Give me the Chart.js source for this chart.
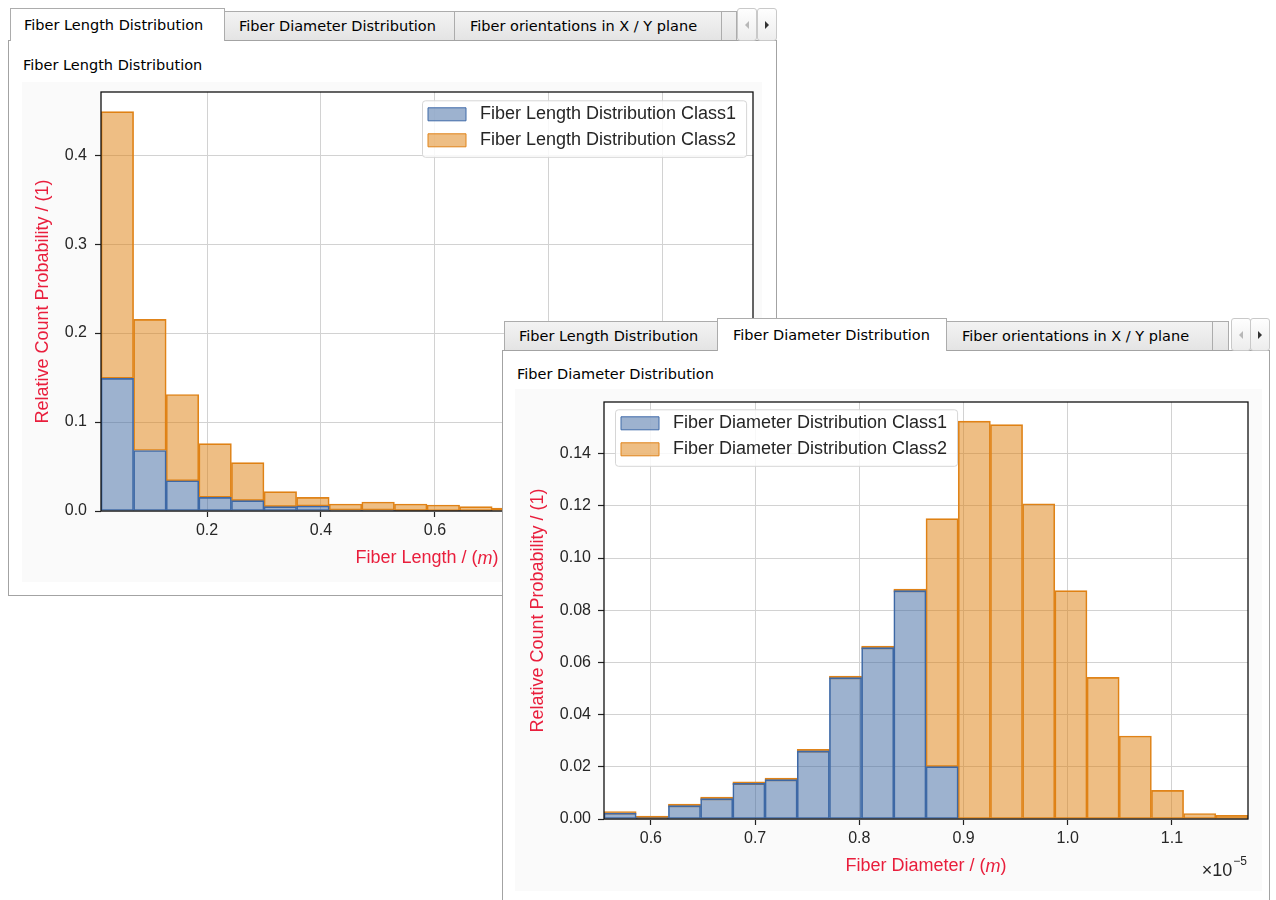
<!DOCTYPE html>
<html>
<head>
<meta charset="utf-8">
<script src="https://cdn.jsdelivr.net/npm/chart.js"></script>
<style>
body { margin:0; width:1276px; height:900px; background:#fff; position:relative; overflow:hidden; font-family:"DejaVu Sans", sans-serif; font-size:14.5px; color:#000; }
.panel { position:absolute; box-sizing:border-box; border:1px solid #a3a3a3; background:#fff; }
.tab { position:absolute; box-sizing:border-box; height:29px; border:1px solid #acacac; border-bottom:0; background:linear-gradient(#f3f3f3,#e4e4e4); line-height:29px; padding-left:14px; white-space:nowrap; overflow:hidden; }
.tab.on { height:33px; background:#fff; line-height:32px; }
.arr { position:absolute; box-sizing:border-box; width:20px; height:33px; border:1px solid #c9c9c9; border-radius:3px; background:linear-gradient(#fefefe,#ededed); }
.arr::after { content:''; position:absolute; top:12px; left:7px; border-style:solid; }
.arr.l::after { border-width:4px 4px 4px 0; border-color:transparent #b8b8b8 transparent transparent; }
.arr.r::after { border-width:4px 0 4px 4px; border-color:transparent transparent transparent #333; }
.cap { position:absolute; line-height:20px; white-space:nowrap; }
.plot { position:absolute; background:#fafafa; }
.plot canvas { display:block; }
#w1 { position:absolute; left:0; top:0; z-index:1; }
#w2 { position:absolute; left:0; top:0; z-index:5; }
</style>
</head>
<body>
<div id="w1">
  <div class="panel" style="left:8px; top:40px; width:769px; height:556px;"></div>
  <div class="tab" style="left:224px; top:11px; width:231px;">Fiber Diameter Distribution</div>
  <div class="tab" style="left:454px; top:11px; width:268px; padding-left:15px;">Fiber orientations in X / Y plane</div>
  <div class="tab" style="left:721px; top:11px; width:16px;"></div>
  <div class="tab on" style="left:10px; top:8px; width:215px; padding-left:13px;">Fiber Length Distribution</div>
  <div class="arr l" style="left:737px; top:8px;"></div>
  <div class="arr r" style="left:757px; top:8px;"></div>
  <div class="cap" style="left:23px; top:55px;">Fiber Length Distribution</div>
  <div class="plot" style="left:22px; top:82px; width:740px; height:500px;"><canvas id="lengthChart" width="740" height="500"></canvas></div>
</div>
<div id="w2">
  <div class="panel" style="left:502px; top:350px; width:768px; height:570px;"></div>
  <div class="tab" style="left:504px; top:321px; width:214px;">Fiber Length Distribution</div>
  <div class="tab" style="left:946px; top:321px; width:267px; padding-left:15px;">Fiber orientations in X / Y plane</div>
  <div class="tab" style="left:1212px; top:321px; width:17px;"></div>
  <div class="tab on" style="left:717px; top:318px; width:230px; padding-left:15px;">Fiber Diameter Distribution</div>
  <div class="arr l" style="left:1231px; top:318px;"></div>
  <div class="arr r" style="left:1250px; top:318px;"></div>
  <div class="cap" style="left:517px; top:364px;">Fiber Diameter Distribution</div>
  <div class="plot" style="left:515px; top:389px; width:747px; height:502px;"><canvas id="diameterChart" width="747" height="502"></canvas></div>
</div>

<script>
// ---- data ----

// fiber length histogram, bin edges in m (20 bins)
var lengthEdges = [0.014, 0.071, 0.128, 0.186, 0.243, 0.300, 0.357, 0.414, 0.472, 0.529, 0.586,
                   0.643, 0.700, 0.758, 0.815, 0.872, 0.929, 0.986, 1.044, 1.101, 1.158];
var lengthClass1 = [0.149, 0.068, 0.034, 0.0154, 0.0116, 0.0049, 0.0056, 0.001, 0.001, 0.0005,
                    0.0003, 0.0002, 0, 0, 0, 0, 0, 0, 0, 0];
var lengthClass2 = [0.300, 0.1474, 0.097, 0.0603, 0.0427, 0.0168, 0.0098, 0.0069, 0.0091, 0.0074,
                    0.0064, 0.0047, 0.002, 0.0015, 0.0012, 0.001, 0.0008, 0.0006, 0.0004, 0.0003];
var lengthXTicks = [0.2, 0.4, 0.6, 0.8, 1.0];
var lengthYTicks = [0.0, 0.1, 0.2, 0.3, 0.4];

// fiber diameter histogram, bin edges in 1e-5 m (20 bins)
var diameterEdges = [0.555, 0.586, 0.617, 0.648, 0.679, 0.710, 0.740, 0.771, 0.802, 0.833, 0.864,
                     0.895, 0.926, 0.957, 0.988, 1.019, 1.050, 1.080, 1.111, 1.142, 1.173];
var diameterClass1 = [0.0023, 0.0005, 0.0051, 0.0078, 0.0137, 0.0151, 0.0261, 0.0542, 0.0657, 0.0875,
                      0.0201, 0, 0, 0, 0, 0, 0, 0, 0, 0];
var diameterClass2 = [0, 0, 0, 0, 0, 0, 0, 0, 0, 0,
                      0.095, 0.1525, 0.1511, 0.1208, 0.0875, 0.0543, 0.0318, 0.011, 0.0021, 0.0014];
var diameterXTicks = [0.6, 0.7, 0.8, 0.9, 1.0, 1.1];
var diameterYTicks = [0.00, 0.02, 0.04, 0.06, 0.08, 0.10, 0.12, 0.14];

// ---- styles ----
var FONT = '"Liberation Sans", Arial, sans-serif';
var RED = '#e91e3c';
var TXT = '#262626';
var blueFill = 'rgba(59,101,159,0.5)', blueEdge = '#3f6aa8';
var orangeFill = 'rgba(221,126,10,0.5)', orangeEdge = '#e0841a';

function maxLabelWidth(chart, lg) {
  var ctx = chart.ctx, w = 0;
  ctx.save();
  ctx.font = '18px ' + FONT;
  lg.legendItems.forEach(function(it) { w = Math.max(w, ctx.measureText(it.text).width); });
  ctx.restore();
  return w;
}

function legendFrame(chart, lg) {
  var ctx = chart.ctx;
  var x0 = lg.left + 2.5, y0 = lg.top + 3.5;
  var x1 = lg.right + 10.5, y1 = lg.top + 8 + 26 * lg.legendItems.length;
  var r = 3;
  ctx.save();
  ctx.beginPath();
  ctx.moveTo(x0 + r, y0);
  ctx.arcTo(x1, y0, x1, y1, r);
  ctx.arcTo(x1, y1, x0, y1, r);
  ctx.arcTo(x0, y1, x0, y0, r);
  ctx.arcTo(x0, y0, x1, y0, r);
  ctx.closePath();
  ctx.fillStyle = 'rgba(255,255,255,0.85)';
  ctx.fill();
  ctx.strokeStyle = '#d6d6d6';
  ctx.lineWidth = 1;
  ctx.stroke();
  ctx.restore();
}

var mplDecor = {
  id: 'mplDecor',
  beforeDraw: function(chart) {
    var a = chart.chartArea, ctx = chart.ctx;
    ctx.save();
    ctx.fillStyle = '#fff';
    ctx.fillRect(a.left, a.top, a.right - a.left, a.bottom - a.top);
    ctx.restore();
  },
  afterLayout: function(chart, args, opts) {
    var lg = chart.legend;
    if (!lg.legendItems) lg.buildLabels();
    lg.left = opts.legendAt[0];
    lg.top = opts.legendAt[1];
    // labels are right-aligned to this edge: patch 38px + 13px gap + text
    lg.right = lg.left + 8 + 38 + 13 + maxLabelWidth(chart, lg) + 1;
    lg.bottom = chart.height;
    if (!lg._framed) {
      var orig = lg.draw;
      lg.draw = function() { legendFrame(chart, lg); orig.apply(lg, arguments); };
      lg._framed = true;
    }
  },
  afterDatasetsDraw: function(chart) {
    var a = chart.chartArea, ctx = chart.ctx;
    ctx.save();
    ctx.strokeStyle = '#111';
    ctx.lineWidth = 1.3;
    ctx.strokeRect(a.left, a.top, a.right - a.left, a.bottom - a.top);
    ctx.restore();
  },
  afterDraw: function(chart, args, opts) {
    var a = chart.chartArea, ctx = chart.ctx;
    ctx.save();
    // x axis title with italic unit
    var parts = opts.xTitle, fonts = ['18px ' + FONT, 'italic 18px ' + FONT, '18px ' + FONT];
    var total = 0, widths = [];
    parts.forEach(function(p, i) { ctx.font = fonts[i]; widths.push(ctx.measureText(p).width); total += widths[i]; });
    var x = (a.left + a.right) / 2 - total / 2, y = a.bottom + 47.5;
    ctx.fillStyle = RED;
    ctx.textBaseline = 'middle';
    ctx.textAlign = 'left';
    parts.forEach(function(p, i) { ctx.font = fonts[i]; ctx.fillText(p, x, y); x += widths[i]; });
    // scale offset text
    if (opts.offsetText) {
      ctx.fillStyle = TXT;
      ctx.textAlign = 'right';
      ctx.font = '12px ' + FONT;
      var supW = ctx.measureText(opts.offsetText[1]).width;
      ctx.fillText(opts.offsetText[1], a.right - 1, a.bottom + 43);
      ctx.font = '18px ' + FONT;
      ctx.fillText(opts.offsetText[0], a.right - 2 - supW, a.bottom + 52);
    }
    ctx.restore();
  }
};

var gridOpts = { color: '#d2d2d2', lineWidth: 1, tickColor: '#222', tickLength: 6, tickWidth: 1.2, drawTicks: true };

function histChart(id, o) {
  var labels = o.edges.slice(0, -1).map(function(e, i) { return ((e + o.edges[i + 1]) / 2).toFixed(4); });
  var barStyle = { borderWidth: 1, borderSkipped: false, barPercentage: 1, categoryPercentage: 1, xAxisID: 'x', yAxisID: 'y' };
  return new Chart(document.getElementById(id), {
    type: 'bar',
    data: {
      labels: labels,
      datasets: [
        Object.assign({ label: o.names[0], data: o.class1, backgroundColor: blueFill, borderColor: blueEdge }, barStyle),
        Object.assign({ label: o.names[1], data: o.class2, backgroundColor: orangeFill, borderColor: orangeEdge, minBarLength: 3 }, barStyle)
      ]
    },
    options: {
      responsive: false,
      animation: false,
      events: [],
      layout: { padding: { left: 0, top: o.padTop, right: o.padRight, bottom: 0 } },
      scales: {
        x: { type: 'category', display: false, stacked: true },
        xl: {
          type: 'linear', axis: 'x', position: 'bottom', bounds: 'data', offset: false,
          min: o.edges[0], max: o.edges[o.edges.length - 1],
          grid: Object.assign({ offset: false }, gridOpts),
          border: { display: false },
          ticks: { font: { size: 16, family: FONT }, color: TXT, padding: 4, maxRotation: 0, autoSkip: false,
                   callback: function(v) { return v.toFixed(o.xDec); } },
          afterBuildTicks: function(s) { s.ticks = o.xTicks.map(function(v) { return { value: v }; }); },
          afterFit: function(s) { s.height = o.xAxisH; s.paddingLeft = 0; s.paddingRight = 0; }
        },
        y: {
          stacked: true, bounds: 'data', min: 0, max: o.yMax,
          grid: gridOpts,
          border: { display: false },
          ticks: { font: { size: 16, family: FONT }, color: TXT, padding: o.yPad,
                   callback: function(v) { return v.toFixed(o.yDec); } },
          title: { display: true, text: 'Relative Count Probability / (1)', color: RED,
                   font: { size: 18, family: FONT }, padding: { top: o.yTitlePad, bottom: 0 } },
          afterBuildTicks: function(s) { s.ticks = o.yTicks.map(function(v) { return { value: v }; }); },
          afterFit: function(s) { s.width = o.yAxisW; s.paddingTop = 0; s.paddingBottom = 0; }
        }
      },
      plugins: {
        legend: {
          position: 'chartArea', align: 'start',
          labels: { boxWidth: 38, boxHeight: 13, padding: 8, color: TXT, textAlign: 'right', font: { size: 18, family: FONT } }
        },
        tooltip: { enabled: false },
        mplDecor: { legendAt: o.legendAt, xTitle: o.xTitle, offsetText: o.offsetText }
      }
    },
    plugins: [mplDecor]
  });
}

histChart('lengthChart', {
  edges: lengthEdges, class1: lengthClass1, class2: lengthClass2,
  xTicks: lengthXTicks, yTicks: lengthYTicks, xDec: 1, yDec: 1, yMax: 0.471,
  names: ['Fiber Length Distribution Class1', 'Fiber Length Distribution Class2'],
  xTitle: ['Fiber Length / (', 'm', ')'], offsetText: null,
  padTop: 10, padRight: 9, xAxisH: 71, yAxisW: 79, yPad: 8, yTitlePad: 10,
  legendAt: [398, 15.3]
});

histChart('diameterChart', {
  edges: diameterEdges, class1: diameterClass1, class2: diameterClass2,
  xTicks: diameterXTicks, yTicks: diameterYTicks, xDec: 1, yDec: 2, yMax: 0.1598,
  names: ['Fiber Diameter Distribution Class1', 'Fiber Diameter Distribution Class2'],
  xTitle: ['Fiber Diameter / (', 'm', ')'], offsetText: ['\u00d710', '\u22125'],
  padTop: 13, padRight: 14, xAxisH: 72, yAxisW: 89, yPad: 7, yTitlePad: 12,
  legendAt: [98, 17.3]
});
</script>
</body>
</html>
